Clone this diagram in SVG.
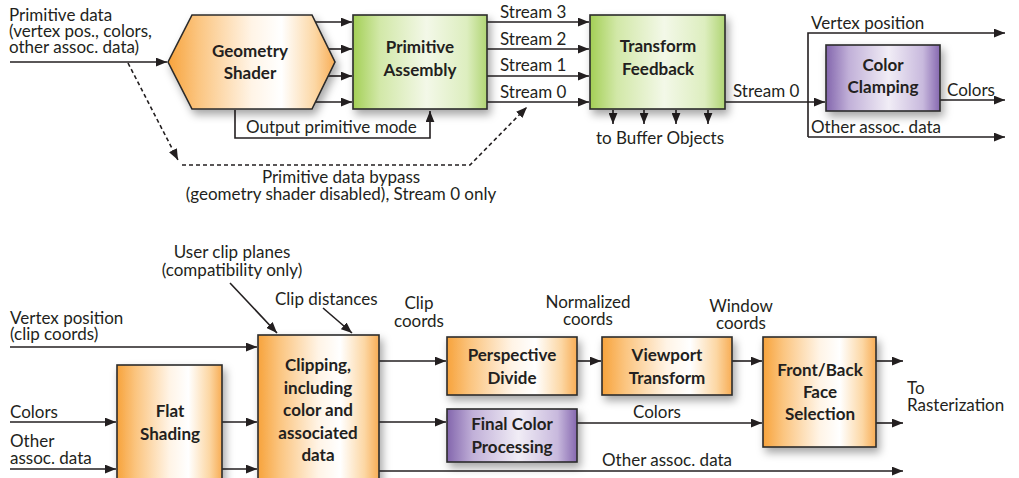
<svg xmlns="http://www.w3.org/2000/svg" width="1019" height="478" viewBox="0 0 1019 478">
<style>
text{font-family:Lato,"Liberation Sans",sans-serif;fill:#231f20}
.l{font-size:17px}
.b{font-size:17px;font-weight:bold;text-anchor:middle}
.c{text-anchor:middle}
.ln{fill:none;stroke:#231f20;stroke-width:1.6}
.d{stroke-dasharray:4 3}
.box{stroke:#2b2b2b;stroke-width:1.6;filter:url(#sh)}
</style>
<defs>
<marker id="a" viewBox="0 0 10 8" refX="10" refY="4" markerWidth="11" markerHeight="9" markerUnits="userSpaceOnUse" orient="auto"><path d="M0,0L10,4L0,8z" fill="#231f20"/></marker>
<linearGradient id="og" x1="0" y1="0" x2="1" y2="0"><stop offset="0" stop-color="#f7a33c"/><stop offset="0.18" stop-color="#fbc580"/><stop offset="0.5" stop-color="#fff4e6"/><stop offset="0.68" stop-color="#ffffff"/><stop offset="0.88" stop-color="#fcd7a4"/><stop offset="1" stop-color="#f8ad55"/></linearGradient>
<linearGradient id="gg" x1="0" y1="0" x2="1" y2="0"><stop offset="0" stop-color="#a3cf55"/><stop offset="0.2" stop-color="#d2e8a8"/><stop offset="0.55" stop-color="#f3f8e8"/><stop offset="0.85" stop-color="#ddeebf"/><stop offset="1" stop-color="#b0d574"/></linearGradient>
<linearGradient id="pg" x1="0" y1="0" x2="1" y2="0"><stop offset="0" stop-color="#8366ad"/><stop offset="0.2" stop-color="#c1b0d8"/><stop offset="0.55" stop-color="#f1edf6"/><stop offset="0.85" stop-color="#c8b9dd"/><stop offset="1" stop-color="#8668b0"/></linearGradient>
<filter id="sh" x="-20%" y="-20%" width="150%" height="150%"><feDropShadow dx="3" dy="5" stdDeviation="4" flood-color="#000" flood-opacity="0.35"/></filter>
</defs>

<g id="connectors">
<path class="ln" d="M10,62H167" marker-end="url(#a)"/>
<path class="ln" d="M315,22H352" marker-end="url(#a)"/>
<path class="ln" d="M328,49H352" marker-end="url(#a)"/>
<path class="ln" d="M328,76H352" marker-end="url(#a)"/>
<path class="ln" d="M315,102H352" marker-end="url(#a)"/>
<path class="ln" d="M487,22H589" marker-end="url(#a)"/>
<path class="ln" d="M487,49H589" marker-end="url(#a)"/>
<path class="ln" d="M487,76H589" marker-end="url(#a)"/>
<path class="ln" d="M487,102H589" marker-end="url(#a)"/>
<path class="ln" d="M235,110V138H430V111" marker-end="url(#a)"/>
<path class="ln d" d="M128,63L178,160" marker-end="url(#a)"/>
<path class="ln d" d="M182,165H470L527,107" marker-end="url(#a)"/>
<path class="ln" d="M613,110V124" marker-end="url(#a)"/>
<path class="ln" d="M644,110V124" marker-end="url(#a)"/>
<path class="ln" d="M676,110V124" marker-end="url(#a)"/>
<path class="ln" d="M708,110V124" marker-end="url(#a)"/>
<path class="ln" d="M725,102H825" marker-end="url(#a)"/>
<path class="ln" d="M808,137V33H1005" marker-end="url(#a)"/>
<path class="ln" d="M808,137H1005" marker-end="url(#a)"/>
<path class="ln" d="M940,100H1005" marker-end="url(#a)"/>

<path class="ln" d="M230,283L277,333" marker-end="url(#a)"/>
<path class="ln" d="M323,308L352,333" marker-end="url(#a)"/>
<path class="ln" d="M10,347H257" marker-end="url(#a)"/>
<path class="ln" d="M10,422H116" marker-end="url(#a)"/>
<path class="ln" d="M10,469H116" marker-end="url(#a)"/>
<path class="ln" d="M222,422H257" marker-end="url(#a)"/>
<path class="ln" d="M222,469H257" marker-end="url(#a)"/>
<path class="ln" d="M379,361H446" marker-end="url(#a)"/>
<path class="ln" d="M379,422H446" marker-end="url(#a)"/>
<path class="ln" d="M379,471H903" marker-end="url(#a)"/>
<path class="ln" d="M577,361H601" marker-end="url(#a)"/>
<path class="ln" d="M732,361H762" marker-end="url(#a)"/>
<path class="ln" d="M577,423H762" marker-end="url(#a)"/>
<path class="ln" d="M876,361H903" marker-end="url(#a)"/>
<path class="ln" d="M876,423H903" marker-end="url(#a)"/>
</g>

<g id="labels">
<text class="l" x="9" y="21">Primitive data</text>
<text class="l" x="9" y="37">(vertex pos., colors,</text>
<text class="l" x="9" y="53">other assoc. data)</text>
<text class="l" x="500" y="18">Stream 3</text>
<text class="l" x="500" y="45">Stream 2</text>
<text class="l" x="500" y="71">Stream 1</text>
<text class="l" x="500" y="98">Stream 0</text>
<text class="l" x="246" y="133">Output primitive mode</text>
<text class="l c" x="660" y="144">to Buffer Objects</text>
<text class="l c" x="341" y="183">Primitive data bypass</text>
<text class="l c" x="341" y="200">(geometry shader disabled), Stream 0 only</text>
<text class="l" x="733" y="97">Stream 0</text>
<text class="l" x="811" y="29">Vertex position</text>
<text class="l" x="947" y="96">Colors</text>
<text class="l" x="811" y="133">Other assoc. data</text>

<text class="l c" x="232" y="258">User clip planes</text>
<text class="l c" x="232" y="276">(compatibility only)</text>
<text class="l" x="275" y="305">Clip distances</text>
<text class="l c" x="419" y="309">Clip</text>
<text class="l c" x="419" y="327">coords</text>
<text class="l c" x="588" y="308">Normalized</text>
<text class="l c" x="588" y="325">coords</text>
<text class="l c" x="741" y="312">Window</text>
<text class="l c" x="741" y="329">coords</text>
<text class="l" x="10" y="324">Vertex position</text>
<text class="l" x="10" y="340">(clip coords)</text>
<text class="l" x="10" y="418">Colors</text>
<text class="l" x="10" y="447">Other</text>
<text class="l" x="10" y="464">assoc. data</text>
<text class="l c" x="657" y="418">Colors</text>
<text class="l" x="602" y="466">Other assoc. data</text>
<text class="l" x="907" y="394">To</text>
<text class="l" x="907" y="411">Rasterization</text>
</g>

<g id="geometry-shader">
<path class="box" d="M168,62L192,15H312L335,62L312,109H192Z" fill="url(#og)"/>
<text class="b" x="250" y="57">Geometry</text>
<text class="b" x="250" y="79">Shader</text>
</g>
<g id="primitive-assembly">
<rect class="box" x="353" y="15" width="134" height="94" fill="url(#gg)"/>
<text class="b" x="420" y="53">Primitive</text>
<text class="b" x="420" y="76">Assembly</text>
</g>
<g id="transform-feedback">
<rect class="box" x="590" y="15" width="135" height="94" fill="url(#gg)"/>
<text class="b" x="658" y="52">Transform</text>
<text class="b" x="658" y="75">Feedback</text>
</g>
<g id="color-clamping">
<rect class="box" x="826" y="45" width="114" height="66" fill="url(#pg)"/>
<text class="b" x="883" y="71">Color</text>
<text class="b" x="883" y="93">Clamping</text>
</g>

<g id="flat-shading">
<rect class="box" x="117" y="365" width="105" height="130" fill="url(#og)"/>
<text class="b" x="170" y="417">Flat</text>
<text class="b" x="170" y="440">Shading</text>
</g>
<g id="clipping">
<rect class="box" x="258" y="335" width="121" height="160" fill="url(#og)"/>
<text class="b" x="318" y="371">Clipping,</text>
<text class="b" x="318" y="394">including</text>
<text class="b" x="318" y="416">color and</text>
<text class="b" x="318" y="439">associated</text>
<text class="b" x="318" y="461">data</text>
</g>
<g id="perspective-divide">
<rect class="box" x="447" y="337" width="130" height="58" fill="url(#og)"/>
<text class="b" x="512" y="361">Perspective</text>
<text class="b" x="512" y="384">Divide</text>
</g>
<g id="viewport-transform">
<rect class="box" x="602" y="337" width="130" height="58" fill="url(#og)"/>
<text class="b" x="667" y="361">Viewport</text>
<text class="b" x="667" y="384">Transform</text>
</g>
<g id="final-color-processing">
<rect class="box" x="447" y="409" width="130" height="53" fill="url(#pg)"/>
<text class="b" x="512" y="430">Final Color</text>
<text class="b" x="512" y="453">Processing</text>
</g>
<g id="face-selection">
<rect class="box" x="763" y="337" width="113" height="110" fill="url(#og)"/>
<text class="b" x="820" y="376">Front/Back</text>
<text class="b" x="820" y="398">Face</text>
<text class="b" x="820" y="420">Selection</text>
</g>
</svg>
